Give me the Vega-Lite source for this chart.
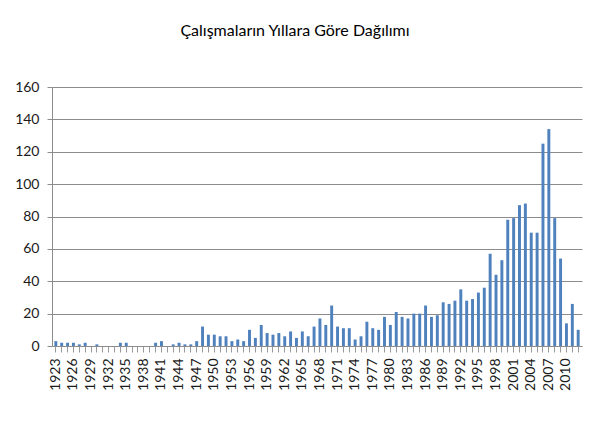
{
  "$schema": "https://vega.github.io/schema/vega-lite/v6.json",
  "autosize": {"type": "none"},
  "padding": {"left": 52, "top": 87, "right": 21, "bottom": 77},
  "width": 530,
  "height": 259,
  "background": "white",
  "title": {
    "text": "Çalışmaların Yıllara Göre Dağılımı",
    "font": "Lato",
    "fontSize": 16,
    "fontWeight": "normal",
    "color": "#000000",
    "anchor": "middle",
    "dx": -22,
    "offset": 41
  },
  "data": {
    "values": [
      {"year": 1923, "count": 3}, {"year": 1924, "count": 2}, {"year": 1925, "count": 2},
      {"year": 1926, "count": 2}, {"year": 1927, "count": 1}, {"year": 1928, "count": 2},
      {"year": 1929, "count": 0}, {"year": 1930, "count": 1}, {"year": 1931, "count": 0},
      {"year": 1932, "count": 0}, {"year": 1933, "count": 0}, {"year": 1934, "count": 2},
      {"year": 1935, "count": 2}, {"year": 1936, "count": 0}, {"year": 1937, "count": 0},
      {"year": 1938, "count": 0}, {"year": 1939, "count": 0}, {"year": 1940, "count": 2},
      {"year": 1941, "count": 3}, {"year": 1942, "count": 0}, {"year": 1943, "count": 1},
      {"year": 1944, "count": 2}, {"year": 1945, "count": 1}, {"year": 1946, "count": 1},
      {"year": 1947, "count": 3}, {"year": 1948, "count": 12}, {"year": 1949, "count": 7},
      {"year": 1950, "count": 7}, {"year": 1951, "count": 6}, {"year": 1952, "count": 6},
      {"year": 1953, "count": 3}, {"year": 1954, "count": 4}, {"year": 1955, "count": 3},
      {"year": 1956, "count": 10}, {"year": 1957, "count": 5}, {"year": 1958, "count": 13},
      {"year": 1959, "count": 8}, {"year": 1960, "count": 7}, {"year": 1961, "count": 8},
      {"year": 1962, "count": 6}, {"year": 1963, "count": 9}, {"year": 1964, "count": 5},
      {"year": 1965, "count": 9}, {"year": 1966, "count": 6}, {"year": 1967, "count": 12},
      {"year": 1968, "count": 17}, {"year": 1969, "count": 13}, {"year": 1970, "count": 25},
      {"year": 1971, "count": 12}, {"year": 1972, "count": 11}, {"year": 1973, "count": 11},
      {"year": 1974, "count": 4}, {"year": 1975, "count": 6}, {"year": 1976, "count": 15},
      {"year": 1977, "count": 11}, {"year": 1978, "count": 10}, {"year": 1979, "count": 18},
      {"year": 1980, "count": 13}, {"year": 1981, "count": 21}, {"year": 1982, "count": 18},
      {"year": 1983, "count": 17}, {"year": 1984, "count": 20}, {"year": 1985, "count": 20},
      {"year": 1986, "count": 25}, {"year": 1987, "count": 18}, {"year": 1988, "count": 19},
      {"year": 1989, "count": 27}, {"year": 1990, "count": 26}, {"year": 1991, "count": 28},
      {"year": 1992, "count": 35}, {"year": 1993, "count": 28}, {"year": 1994, "count": 29},
      {"year": 1995, "count": 33}, {"year": 1996, "count": 36}, {"year": 1997, "count": 57},
      {"year": 1998, "count": 44}, {"year": 1999, "count": 53}, {"year": 2000, "count": 78},
      {"year": 2001, "count": 79}, {"year": 2002, "count": 87}, {"year": 2003, "count": 88},
      {"year": 2004, "count": 70}, {"year": 2005, "count": 70}, {"year": 2006, "count": 125},
      {"year": 2007, "count": 134}, {"year": 2008, "count": 79}, {"year": 2009, "count": 54},
      {"year": 2010, "count": 14}, {"year": 2011, "count": 26}, {"year": 2012, "count": 10}
    ]
  },
  "mark": {"type": "bar", "color": "#4F81BD"},
  "encoding": {
    "x": {
      "field": "year",
      "type": "ordinal",
      "title": null,
      "scale": {"paddingInner": 0.5, "paddingOuter": 0.4},
      "axis": {
        "labelExpr": "(datum.value - 1923) % 3 == 0 ? datum.label : ''",
        "labelAngle": 270,
        "labelFont": "Lato",
        "labelFontSize": 14,
        "labelColor": "#1a1a1a",
        "labelPadding": 6,
        "labelOverlap": false,
        "domainColor": "#8c8c8c",
        "tickColor": "#9a9a9a",
        "tickSize": 6,
        "grid": false
      }
    },
    "y": {
      "field": "count",
      "type": "quantitative",
      "title": null,
      "scale": {"domain": [0, 160], "nice": false},
      "axis": {
        "values": [0, 20, 40, 60, 80, 100, 120, 140, 160],
        "labelFont": "Lato",
        "labelFontSize": 14,
        "labelColor": "#1a1a1a",
        "labelPadding": 8,
        "domainColor": "#8c8c8c",
        "tickColor": "#8c8c8c",
        "tickSize": 5,
        "gridColor": "#8c8c8c",
        "gridOpacity": 1
      }
    }
  },
  "config": {
    "view": {"stroke": null}
  }
}
